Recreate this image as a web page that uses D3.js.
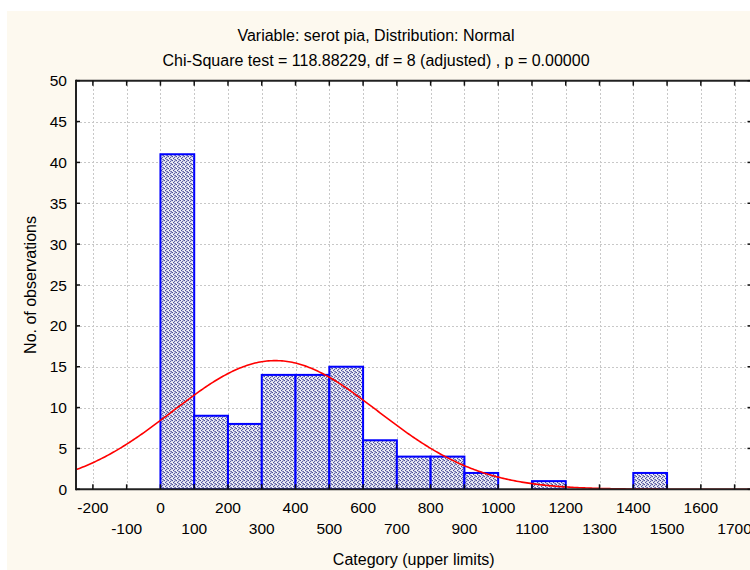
<!DOCTYPE html>
<html>
<head>
<meta charset="utf-8">
<script src="https://cdn.jsdelivr.net/npm/d3@7"></script>
<style>
  html, body { margin: 0; padding: 0; background: #ffffff; }
  svg { display: block; }
  text { font-family: "Liberation Sans", Arial, sans-serif; fill: #000; }
</style>
</head>
<body>
<div id="chart"></div>
<script>
// ---- Data ----
const binLower = [-200, -100, 0, 100, 200, 300, 400, 500, 600, 700, 800, 900, 1000, 1100, 1200, 1300, 1400, 1500, 1600];
const counts   = [0, 0, 41, 9, 8, 14, 14, 15, 6, 4, 4, 2, 0, 1, 0, 0, 2, 0, 0];
const binWidth = 100;
const xTicks = [-200, -100, 0, 100, 200, 300, 400, 500, 600, 700, 800, 900, 1000, 1100, 1200, 1300, 1400, 1500, 1600, 1700];
const yTicks = [0, 5, 10, 15, 20, 25, 30, 35, 40, 45, 50];
const fitMean = 340;
const fitSD = 304;
const totalN = 120;
const titles = ["Variable: serot pia, Distribution: Normal",
                "Chi-Square test = 118.88229, df = 8 (adjusted) , p = 0.00000"];
const xTitle = "Category (upper limits)";
const yTitle = "No. of observations";

// ---- Layout ----
const W = 750, H = 570;
const L = 76, R = 751.5, T = 80.7, B = 489.3;

const svg = d3.select("#chart").append("svg").attr("width", W).attr("height", H);

svg.append("rect").attr("x", 7).attr("y", 11).attr("width", W - 7).attr("height", H - 11)
  .attr("fill", "#fdf9ef");

const x = d3.scaleLinear().domain([-250, 1750]).range([L, R]);
const y = d3.scaleLinear().domain([0, 50]).range([B, T]);

const defs = svg.append("defs");
// stippled fill (4x4 tile of scattered dots)
const pat = defs.append("pattern").attr("id", "stip").attr("patternUnits", "userSpaceOnUse")
  .attr("width", 4).attr("height", 4);
pat.append("rect").attr("width", 4).attr("height", 4).attr("fill", "#d6d7ea");
const dots = [[0,0,"#4a4d98"],[2,1,"#5c5fa2"],[1,2,"#4a4d98"],[3,3,"#6a6caa"],[3,0,"#8a8cc0"],[1,0,"#f2f2f8"],[0,3,"#f2f2f8"],[2,3,"#8a8cc0"],[0,2,"#eeeef6"],[3,2,"#f0f0f8"]];
dots.forEach(([dx, dy, c]) => pat.append("rect").attr("x", dx).attr("y", dy).attr("width", 1).attr("height", 1).attr("fill", c));
defs.append("clipPath").attr("id", "plotclip").append("rect")
  .attr("x", L).attr("y", T).attr("width", R - L).attr("height", B - T);

// plot background
svg.append("rect").attr("x", L).attr("y", T).attr("width", R - L).attr("height", B - T).attr("fill", "#ffffff");

// grid
const grid = svg.append("g").attr("stroke", "#c8c8c8").attr("stroke-width", 1)
  .attr("stroke-dasharray", "2,2").attr("shape-rendering", "crispEdges");
grid.selectAll("line.v").data(xTicks).join("line")
  .attr("x1", d => Math.round(x(d)) + 0.5).attr("x2", d => Math.round(x(d)) + 0.5)
  .attr("y1", T).attr("y2", B);
grid.selectAll("line.h").data(yTicks.filter(d => d > 0 && d < 50)).join("line")
  .attr("x1", L).attr("x2", R)
  .attr("y1", d => Math.round(y(d)) + 0.5).attr("y2", d => Math.round(y(d)) + 0.5);

// bars
const bars = svg.append("g").attr("clip-path", "url(#plotclip)");
bars.selectAll("rect").data(binLower.map((b, i) => ({ lo: b, c: counts[i] }))).join("rect")
  .attr("x", d => x(d.lo))
  .attr("y", d => y(d.c))
  .attr("width", d => x(d.lo + binWidth) - x(d.lo))
  .attr("height", d => y(0) - y(d.c))
  .attr("fill", "url(#stip)")
  .attr("stroke", "#0000ff")
  .attr("stroke-width", 2);

// normal curve
const curvePts = d3.range(-250, 1751, 5).map(v => [v,
  totalN * binWidth / (fitSD * Math.sqrt(2 * Math.PI)) * Math.exp(-0.5 * Math.pow((v - fitMean) / fitSD, 2))]);
svg.append("path").attr("clip-path", "url(#plotclip)")
  .attr("d", d3.line().x(d => x(d[0])).y(d => y(d[1]))(curvePts))
  .attr("fill", "none").attr("stroke", "#ff0000").attr("stroke-width", 1.6);

// axes frame
const frame = svg.append("g").attr("stroke", "#222").attr("stroke-width", 2);
frame.append("line").attr("x1", L).attr("x2", R).attr("y1", B).attr("y2", B);
frame.append("line").attr("x1", L).attr("x2", R).attr("y1", T).attr("y2", T);
frame.append("line").attr("x1", L).attr("x2", L).attr("y1", T - 1).attr("y2", B + 1);
frame.append("line").attr("x1", R).attr("x2", R).attr("y1", T - 1).attr("y2", B + 1);

// ticks (inward)
const tk = svg.append("g").attr("stroke", "#111").attr("stroke-width", 1.5);
tk.selectAll("line.xb").data(xTicks).join("line").attr("class", "xb")
  .attr("x1", d => x(d)).attr("x2", d => x(d)).attr("y1", B).attr("y2", B - 5);
tk.selectAll("line.xt").data(xTicks).join("line").attr("class", "xt")
  .attr("x1", d => x(d)).attr("x2", d => x(d)).attr("y1", T).attr("y2", T + 5);
tk.selectAll("line.yl").data(yTicks).join("line").attr("class", "yl")
  .attr("x1", L).attr("x2", L + 4).attr("y1", d => y(d)).attr("y2", d => y(d));
tk.selectAll("line.yr").data(yTicks).join("line").attr("class", "yr")
  .attr("x1", R).attr("x2", R - 4).attr("y1", d => y(d)).attr("y2", d => y(d));

// tick labels
svg.append("g").selectAll("text").data(yTicks).join("text")
  .attr("x", 67).attr("y", d => y(d) + 5.5)
  .attr("text-anchor", "end").attr("font-size", 15.5).text(d => d);

svg.append("g").selectAll("text").data(xTicks).join("text")
  .attr("x", d => x(d)).attr("y", (d, i) => (i % 2 === 0 ? 513 : 534))
  .attr("text-anchor", "middle").attr("font-size", 15.5).text(d => d);

// titles
svg.append("text").attr("x", 376).attr("y", 41).attr("text-anchor", "middle")
  .attr("font-size", 16).text(titles[0]);
svg.append("text").attr("x", 376).attr("y", 66).attr("text-anchor", "middle")
  .attr("font-size", 16).text(titles[1]);
svg.append("text").attr("x", (L + R) / 2).attr("y", 565).attr("text-anchor", "middle")
  .attr("font-size", 16).text(xTitle);
svg.append("text").attr("transform", `translate(36,${(T + B) / 2}) rotate(-90)`)
  .attr("text-anchor", "middle").attr("font-size", 16).text(yTitle);
</script>
</body>
</html>
